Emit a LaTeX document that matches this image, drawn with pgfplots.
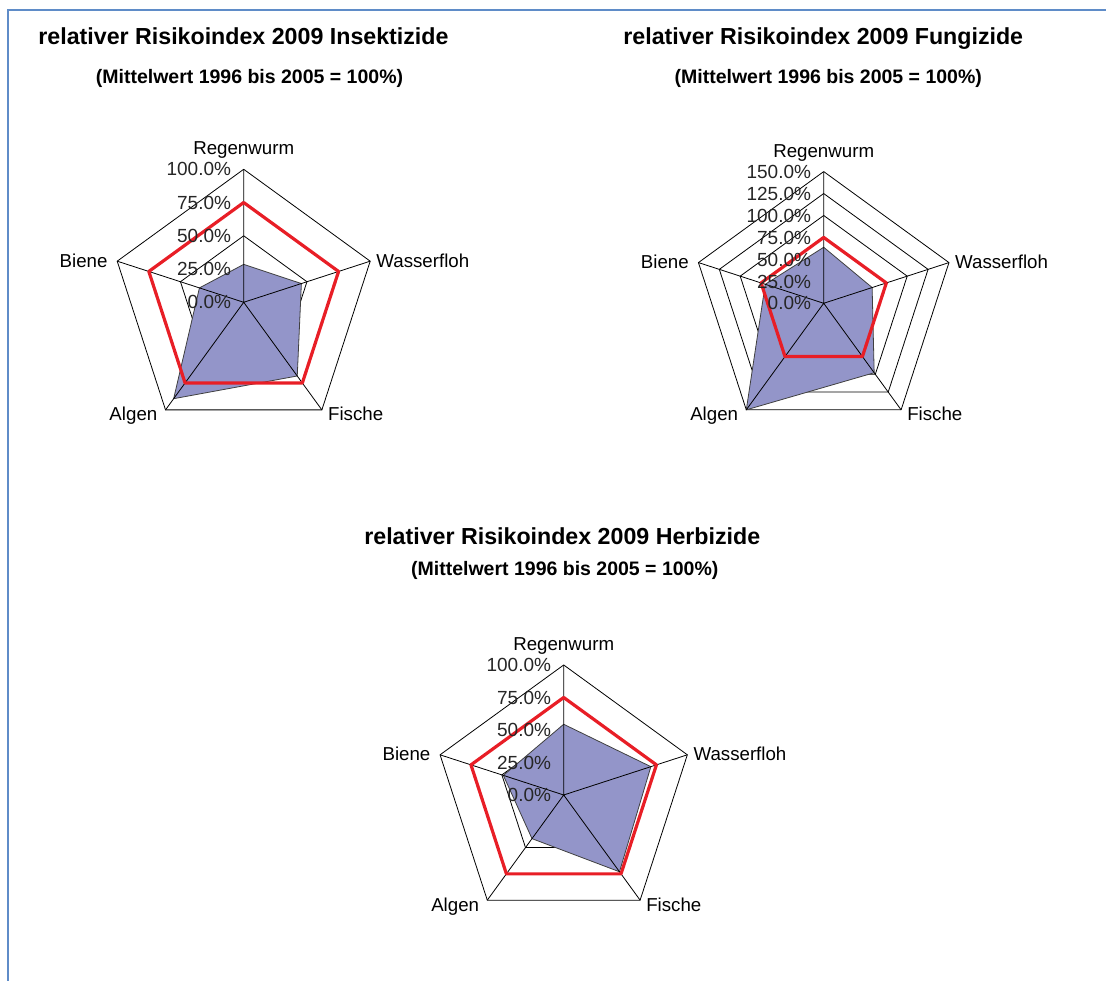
\documentclass[border=0pt]{standalone}
\usepackage{pgfplots}
\pgfplotsset{compat=1.18}
\usepackage{fontspec}
\setmainfont{Liberation Sans}
\usetikzlibrary{calc}
\definecolor{fillc}{RGB}{147,149,201}
\definecolor{redc}{RGB}{232,30,38}
\definecolor{framec}{RGB}{95,140,200}
\pgfplotsset{
  radar/.style={hide axis, clip=false, anchor=center, data cs=polar,
    xmin=-#1, xmax=#1, ymin=-#1, ymax=#1},
  ring/.style={black, line width=0.8pt, mark=none, line join=miter},
  area/.style={draw=black!75, line width=0.8pt, fill=fillc, mark=none, line join=miter},
  target/.style={redc, line width=3.2pt, mark=none, line join=round, line cap=round},
}
\begin{document}
\begin{tikzpicture}[x=1pt,y=1pt,
  lab/.style={inner sep=0pt, font=\fontsize{18.7}{20}\selectfont},
  tck/.style={inner sep=0pt, anchor=base east, text=black!85, font=\fontsize{19}{20}\selectfont},
  ttl/.style={inner sep=0pt, anchor=base, font=\bfseries\fontsize{23.2}{26}\selectfont},
  sub/.style={inner sep=0pt, anchor=base, font=\bfseries\fontsize{19.5}{22}\selectfont}]
\path[use as bounding box] (0,0) rectangle (1106,981);
\draw[framec, line width=1.8pt] (7.7,0) -- (7.7,971) -- (1106,971);

\coordinate (c1) at (243.7,678.7);
\coordinate (c2) at (823.7,677.7);
\coordinate (c3) at (563.7,186);

% ---------- Chart 1: Insektizide ----------
\begin{axis}[radar=115, at={(c1)}, x=1.33pt, y=1.33pt]
\addplot[ring] coordinates {(90,25) (18,25) (-54,25) (-126,25) (162,25) (90,25)};
\addplot[ring] coordinates {(90,50) (18,50) (-54,50) (-126,50) (162,50) (90,50)};
\addplot[ring] coordinates {(90,75) (18,75) (-54,75) (-126,75) (162,75) (90,75)};
\addplot[ring] coordinates {(90,100) (18,100) (-54,100) (-126,100) (162,100) (90,100)};
\addplot[area] coordinates {(90,28.5) (18,45.6) (-54,68.5) (-126,89.6) (162,35) (90,28.5)};
\addplot[ring] coordinates {(0,0) (90,100) (0,0) (18,100) (0,0) (-54,100) (0,0) (-126,100) (0,0) (162,100)};
\addplot[target] coordinates {(90,75) (18,75) (-54,75) (-126,75) (162,75) (90,75)};
\end{axis}

% ---------- Chart 2: Fungizide ----------
\begin{axis}[radar=170, at={(c2)}, x=0.878pt, y=0.878pt]
\addplot[ring] coordinates {(90,25) (18,25) (-54,25) (-126,25) (162,25) (90,25)};
\addplot[ring] coordinates {(90,50) (18,50) (-54,50) (-126,50) (162,50) (90,50)};
\addplot[ring] coordinates {(90,75) (18,75) (-54,75) (-126,75) (162,75) (90,75)};
\addplot[ring] coordinates {(90,100) (18,100) (-54,100) (-126,100) (162,100) (90,100)};
\addplot[ring] coordinates {(90,125) (18,125) (-54,125) (-126,125) (162,125) (90,125)};
\addplot[ring] coordinates {(90,150) (18,150) (-54,150) (-126,150) (162,150) (90,150)};
\addplot[area] coordinates {(90,63.8) (18,58) (-54,97.8) (-126,150) (162,70) (90,63.8)};
\addplot[ring] coordinates {(0,0) (90,150) (0,0) (18,150) (0,0) (-54,150) (0,0) (-126,150) (0,0) (162,150)};
\addplot[target] coordinates {(90,75) (18,75) (-54,75) (-126,75) (162,75) (90,75)};
\end{axis}

% ---------- Chart 3: Herbizide ----------
\begin{axis}[radar=115, at={(c3)}, x=1.30pt, y=1.30pt]
\addplot[ring] coordinates {(90,25) (18,25) (-54,25) (-126,25) (162,25) (90,25)};
\addplot[ring] coordinates {(90,50) (18,50) (-54,50) (-126,50) (162,50) (90,50)};
\addplot[ring] coordinates {(90,75) (18,75) (-54,75) (-126,75) (162,75) (90,75)};
\addplot[ring] coordinates {(90,100) (18,100) (-54,100) (-126,100) (162,100) (90,100)};
\addplot[area] coordinates {(90,54.4) (18,70.5) (-54,73) (-126,41.5) (162,48.8) (90,54.4)};
\addplot[ring] coordinates {(0,0) (90,100) (0,0) (18,100) (0,0) (-54,100) (0,0) (-126,100) (0,0) (162,100)};
\addplot[target] coordinates {(90,75) (18,75) (-54,75) (-126,75) (162,75) (90,75)};
\end{axis}

% ---------- Titles ----------
\node[ttl] at (243.5,936.7) {relativer Risikoindex 2009 Insektizide};
\node[sub] at (249.5,897.7) {(Mittelwert 1996 bis 2005 = 100\%)};
\node[ttl] at (823.3,936.7) {relativer Risikoindex 2009 Fungizide};
\node[sub] at (828.3,897.7) {(Mittelwert 1996 bis 2005 = 100\%)};
\node[ttl] at (562.3,436) {relativer Risikoindex 2009 Herbizide};
\node[sub] at (564.8,405.3) {(Mittelwert 1996 bis 2005 = 100\%)};

% ---------- Tick labels ----------
\foreach \v in {0,25,50,75,100}
  \node[tck] at ($(c1)+(-12.5,{\v*1.33-6.7})$) {\v.0\%};
\foreach \v in {0,25,50,75,100,125,150}
  \node[tck] at ($(c2)+(-12.5,{\v*0.878-6.7})$) {\v.0\%};
\foreach \v in {0,25,50,75,100}
  \node[tck] at ($(c3)+(-12.5,{\v*1.30-6.7})$) {\v.0\%};

% ---------- Category labels ----------
\foreach \c/\r in {c1/133, c2/131.7, c3/130} {
  \node[lab, anchor=base] at ($(\c)+(90:\r)+(0,14.5)$) {Regenwurm};
  \node[lab, anchor=base west] at ($(\c)+(18:\r)+(6,-6)$) {Wasserfloh};
  \node[lab, anchor=base west] at ($(\c)+(-54:\r)+(6,-11)$) {Fische};
  \node[lab, anchor=base east] at ($(\c)+(-126:\r)+(-8,-11)$) {Algen};
  \node[lab, anchor=base east] at ($(\c)+(162:\r)+(-9.5,-6)$) {Biene};
}
\end{tikzpicture}
\end{document}
